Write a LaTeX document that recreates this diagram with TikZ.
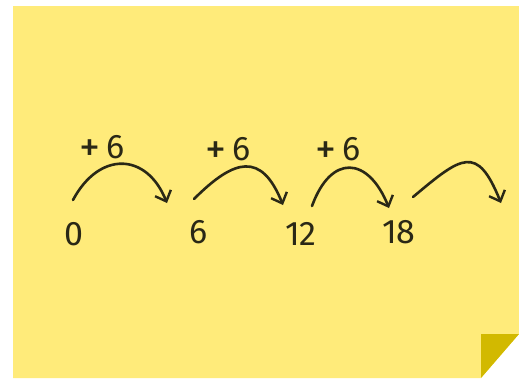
\documentclass[tikz,border=0pt]{standalone}
\usepackage{fontspec}
\setmainfont{Fira Sans}
\usepackage{tikz}
\usetikzlibrary{arrows.meta}
\definecolor{notey}{RGB}{255,235,122}
\definecolor{foldy}{RGB}{210,185,0}
\definecolor{ink}{RGB}{42,40,22}

\newcommand{\bigplus}{\raisebox{-3pt}{\fontsize{42}{42}\selectfont +}}

\begin{document}
\begin{tikzpicture}[
  x=1pt, y=1pt,
  num/.style  = {text=ink, font=\fontsize{34}{34}\selectfont, inner sep=0pt},
  plus/.style = {num},
  hop/.style  = {draw=ink, line width=2.6pt, line cap=round,
                 -{Straight Barb[length=9pt, width=17pt, line width=2.4pt]}},
]

\useasboundingbox (0,0) rectangle (519,-378);

% ======================= sticky note ===================================
\fill[notey] (13,-6) -- (519,-6) -- (519,-334) -- (481,-378) -- (13,-378) -- cycle;
\fill[foldy] (481,-334) -- (519,-334) -- (481,-378) -- cycle;

% ======================= numbers =======================================
\node[num] (n0)  at (74,-234)  {0};
\node[num] (n6)  at (199,-232) {6};
\node[num] (n12) at (301,-234) {12};
\node[num] (n18) at (399,-232) {18};

% ======================= step labels ===================================
\node[plus] (p1) at (102,-148) {\bigplus\hspace{6pt}6};
\node[plus] (p2) at (228,-150) {\bigplus\hspace{6pt}6};
\node[plus] (p3) at (338,-150) {\bigplus\hspace{6pt}6};

% ======================= hops ==========================================
\coordinate (h1s) at (73,-200);  \coordinate (h1e) at (167,-203);
\coordinate (h2s) at (194,-199); \coordinate (h2e) at (283,-205);
\coordinate (h3s) at (312,-206); \coordinate (h3e) at (389,-208);
\coordinate (h4s) at (413,-197); \coordinate (h4e) at (501,-203);
\foreach \s/\e/\o/\l in {h1s/h1e/62/1.5, h2s/h2e/45/1.65,
                         h3s/h3e/70/1.85, h4s/h4e/40/1.85} {
  \draw[hop] (\s) to[out=\o, in=112, looseness=\l] (\e);
}

\end{tikzpicture}
\end{document}
